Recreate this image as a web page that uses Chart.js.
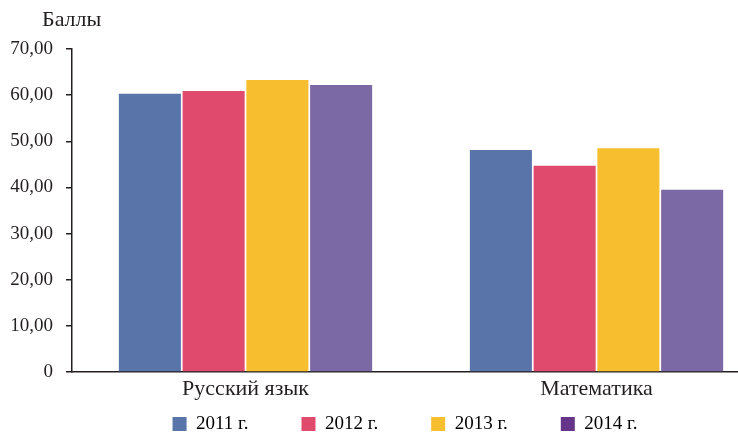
<!DOCTYPE html>
<html>
<head>
<meta charset="utf-8">
<script src="https://cdn.jsdelivr.net/npm/chart.js@4.4.1/dist/chart.umd.min.js"></script>
<style>
html, body { margin: 0; padding: 0; background: #fff; overflow: hidden; }
</style>
</head>
<body>
<canvas id="chart" width="738" height="437"></canvas>
<script>
var categories = ["Русский язык", "Математика"];
var years = ["2011 г.", "2012 г.", "2013 г.", "2014 г."];
var y2011 = [60.3, 48.1];
var y2012 = [60.9, 44.7];
var y2013 = [63.3, 48.5];
var y2014 = [62.2, 39.5];
var yTicks = [0, 10, 20, 30, 40, 50, 60, 70];
var yTitle = "Баллы";

var barColors = ["#5874a9", "#e04a6d", "#f7be2f", "#7b69a6"];
var legendColors = ["#5874a9", "#e04a6d", "#f7be2f", "#66358a"];
var ink = "#231f20";
var serif = "'Liberation Serif', 'DejaVu Serif', serif";

var series = [y2011, y2012, y2013, y2014];
var datasets = years.map(function (year, i) {
    return {
        label: year,
        data: series[i].map(function (v, j) { return { x: j + 1, y: v }; }),
        backgroundColor: barColors[i],
        borderWidth: 0,
        barPercentage: 0.973,
        categoryPercentage: 0.7265
    };
});

// "Баллы" above the y axis
var axisTitle = {
    id: "axisTitle",
    afterDraw: function (chart) {
        var ctx = chart.ctx;
        ctx.save();
        ctx.font = "22px " + serif;
        ctx.fillStyle = ink;
        ctx.textAlign = "left";
        ctx.textBaseline = "alphabetic";
        ctx.fillText(yTitle, chart.chartArea.left - 30, 26);
        ctx.restore();
    }
};

// wide gaps between legend items without a tall legend box
var legendShift = {
    id: "legendShift",
    beforeInit: function (chart) {
        var legend = chart.legend;
        var fit = legend.fit;
        legend.fit = function () {
            fit.call(this);
            this.height = 30.6;
        };
    },
    afterLayout: function (chart) {
        var legend = chart.legend;
        legend.top -= legend.options.labels.padding - 8;
    }
};

var chart = new Chart("chart", {
    type: "bar",
    data: { datasets: datasets },
    plugins: [axisTitle, legendShift],
    options: {
        responsive: false,
        animation: false,
        layout: { padding: { top: 49, right: 0, bottom: 0, left: 0 } },
        plugins: {
            tooltip: { enabled: false },
            legend: {
                position: "bottom",
                fullSize: false,
                labels: {
                    boxWidth: 14,
                    boxHeight: 14,
                    padding: 53,
                    color: ink,
                    font: { family: serif, size: 19 },
                    generateLabels: function (chart) {
                        return chart.data.datasets.map(function (ds, i) {
                            return {
                                text: ds.label,
                                fillStyle: legendColors[i],
                                strokeStyle: legendColors[i],
                                lineWidth: 0,
                                datasetIndex: i
                            };
                        });
                    }
                }
            }
        },
        scales: {
            x: {
                type: "linear",
                offset: false,
                min: 0.5057,
                max: 2.4031,
                afterBuildTicks: function (scale) {
                    scale.ticks = categories.map(function (c, i) { return { value: i + 1 }; });
                },
                grid: { display: false, drawTicks: false, tickLength: 0 },
                border: { display: true, color: ink, width: 1.5 },
                ticks: {
                    autoSkip: false,
                    maxRotation: 0,
                    padding: 4,
                    color: ink,
                    font: { family: serif, size: 22 },
                    callback: function (v) { return categories[v - 1]; }
                }
            },
            y: {
                min: 0,
                max: 70,
                afterBuildTicks: function (scale) {
                    scale.ticks = yTicks.map(function (v) { return { value: v }; });
                },
                afterFit: function (scale) { scale.width = 72; },
                grid: {
                    display: true,
                    drawOnChartArea: false,
                    drawTicks: true,
                    tickLength: 6,
                    color: ink,
                    lineWidth: 1.5
                },
                border: { display: true, color: ink, width: 1.5 },
                ticks: {
                    padding: 13,
                    color: ink,
                    font: { family: serif, size: 19 },
                    callback: function (v) { return v === 0 ? "0" : v.toFixed(2).replace(".", ","); }
                }
            }
        }
    }
});
</script>
</body>
</html>
